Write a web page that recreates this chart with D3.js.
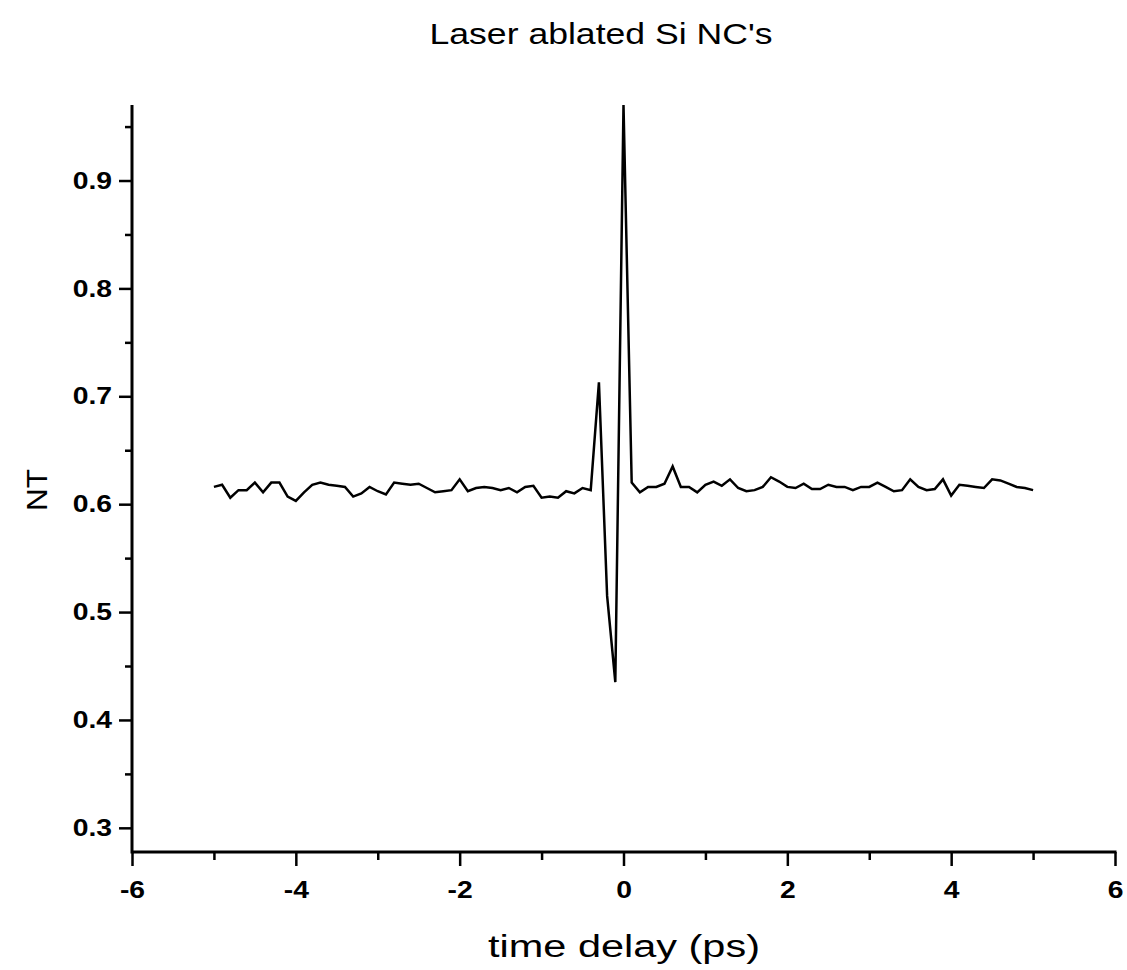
<!DOCTYPE html>
<html>
<head>
<meta charset="utf-8">
<script src="https://cdn.jsdelivr.net/npm/d3@7"></script>
<style>
  body { margin: 0; background: #fff; }
  svg { display: block; font-family: Arial, "Liberation Sans", sans-serif; }
</style>
</head>
<body>
<svg id="chart" width="1127" height="970"></svg>
<script>
// time delay (ps) and normalised transmission
const delay = [
  -5.0, -4.9, -4.8, -4.7, -4.6, -4.5, -4.4, -4.3, -4.2, -4.1,
  -4.0, -3.9, -3.8, -3.7, -3.6, -3.5, -3.4, -3.3, -3.2, -3.1,
  -3.0, -2.9, -2.8, -2.7, -2.6, -2.5, -2.4, -2.3, -2.2, -2.1,
  -2.0, -1.9, -1.8, -1.7, -1.6, -1.5, -1.4, -1.3, -1.2, -1.1,
  -1.0, -0.9, -0.8, -0.7, -0.6, -0.5, -0.4, -0.3, -0.2, -0.1,
   0.0,  0.1,  0.2,  0.3,  0.4,  0.5,  0.6,  0.7,  0.8,  0.9,
   1.0,  1.1,  1.2,  1.3,  1.4,  1.5,  1.6,  1.7,  1.8,  1.9,
   2.0,  2.1,  2.2,  2.3,  2.4,  2.5,  2.6,  2.7,  2.8,  2.9,
   3.0,  3.1,  3.2,  3.3,  3.4,  3.5,  3.6,  3.7,  3.8,  3.9,
   4.0,  4.1,  4.2,  4.3,  4.4,  4.5,  4.6,  4.7,  4.8,  4.9,
   5.0
]
const nt = [
  0.616, 0.618, 0.606, 0.613, 0.613, 0.620, 0.611, 0.620, 0.620, 0.607,
  0.603, 0.611, 0.618, 0.620, 0.618, 0.617, 0.616, 0.607, 0.610, 0.616,
  0.612, 0.609, 0.620, 0.619, 0.618, 0.619, 0.615, 0.611, 0.612, 0.613,
  0.623, 0.612, 0.615, 0.616, 0.615, 0.613, 0.615, 0.611, 0.616, 0.617,
  0.606, 0.607, 0.606, 0.612, 0.610, 0.615, 0.613, 0.713, 0.515, 0.435,
  0.970, 0.620, 0.611, 0.616, 0.616, 0.619, 0.635, 0.616, 0.616, 0.611,
  0.618, 0.621, 0.617, 0.623, 0.615, 0.612, 0.613, 0.616, 0.625, 0.621,
  0.616, 0.615, 0.619, 0.614, 0.614, 0.618, 0.616, 0.616, 0.613, 0.616,
  0.616, 0.620, 0.616, 0.612, 0.613, 0.623, 0.616, 0.613, 0.614, 0.623,
  0.608, 0.618, 0.617, 0.616, 0.615, 0.623, 0.622, 0.619, 0.616, 0.615,
  0.613
]
const xTicks = [-6, -4, -2, 0, 2, 4, 6]
const xMinor = [-5, -3, -1, 1, 3, 5]
const yTicks = [0.3, 0.4, 0.5, 0.6, 0.7, 0.8, 0.9]
const yMinor = [0.35, 0.45, 0.55, 0.65, 0.75, 0.85, 0.95]

const titleText = "Laser ablated Si NC's"
const xLabel = "time delay (ps)"
const yLabel = "NT"

const svg = d3.select('#chart')
const plotLeft = 132, plotRight = 1115, plotTop = 105, plotBottom = 852
const stretch = 1.18   // the scan is a bit wider than tall

const x = d3.scaleLinear().domain([-6, 6]).range([plotLeft, plotRight])
const y = d3.scaleLinear().domain([0.2776, 0.97]).range([plotBottom, plotTop])

// data line
svg.append('path')
    .datum(delay.map((d, i) => [d, nt[i]]))
    .attr('fill', 'none')
    .attr('stroke', '#000')
    .attr('stroke-width', 2.5)
    .attr('stroke-linejoin', 'miter')
    .attr('d', d3.line().x(d => x(d[0])).y(d => y(d[1])))

// minor ticks
svg.append('g')
    .attr('transform', `translate(0,${plotBottom})`)
    .call(d3.axisBottom(x).tickValues(xMinor).tickSize(8).tickFormat(''))
svg.append('g')
    .attr('transform', `translate(${plotLeft},0)`)
    .call(d3.axisLeft(y).tickValues(yMinor).tickSize(7).tickFormat(''))

// major axes
const gx = svg.append('g')
    .attr('transform', `translate(0,${plotBottom})`)
    .call(d3.axisBottom(x).tickValues(xTicks).tickSize(14).tickSizeOuter(0)
        .tickPadding(15).tickFormat(d => String(d)))
const gy = svg.append('g')
    .attr('transform', `translate(${plotLeft},0)`)
    .call(d3.axisLeft(y).tickValues(yTicks).tickSize(13).tickSizeOuter(0)
        .tickFormat(d3.format('.1f')))

svg.selectAll('.domain').remove()
svg.append('line')
    .attr('x1', plotLeft).attr('x2', plotRight + 1.5).attr('y1', plotBottom).attr('y2', plotBottom)
    .attr('stroke', '#000').attr('stroke-width', 3)
svg.append('line')
    .attr('x1', plotLeft).attr('x2', plotLeft).attr('y1', plotTop).attr('y2', plotBottom + 1.5)
    .attr('stroke', '#000').attr('stroke-width', 3)

svg.selectAll('.tick line').attr('stroke', '#000').attr('stroke-width', 2.5)
svg.selectAll('.tick text')
    .attr('fill', '#000')
    .style('font-size', '24px')
    .style('font-weight', 'bold')
    .style('font-family', 'Arial, "Liberation Sans", sans-serif')
gx.selectAll('.tick text').attr('transform', `scale(${stretch},1)`)
gy.selectAll('.tick text')
    .attr('x', -20 / stretch)
    .attr('transform', `scale(${stretch},1)`)

// title and axis titles
svg.append('text')
    .attr('x', 601).attr('y', 44)
    .attr('text-anchor', 'middle')
    .attr('textLength', 343).attr('lengthAdjust', 'spacingAndGlyphs')
    .style('font-size', '29px')
    .text(titleText)

svg.append('text')
    .attr('x', 624).attr('y', 957)
    .attr('text-anchor', 'middle')
    .attr('textLength', 272).attr('lengthAdjust', 'spacingAndGlyphs')
    .style('font-size', '31px')
    .text(xLabel)

svg.append('text')
    .attr('transform', 'translate(47,490) rotate(-90)')
    .attr('text-anchor', 'middle')
    .attr('textLength', 42).attr('lengthAdjust', 'spacingAndGlyphs')
    .style('font-size', '30px')
    .text(yLabel)
</script>
</body>
</html>
